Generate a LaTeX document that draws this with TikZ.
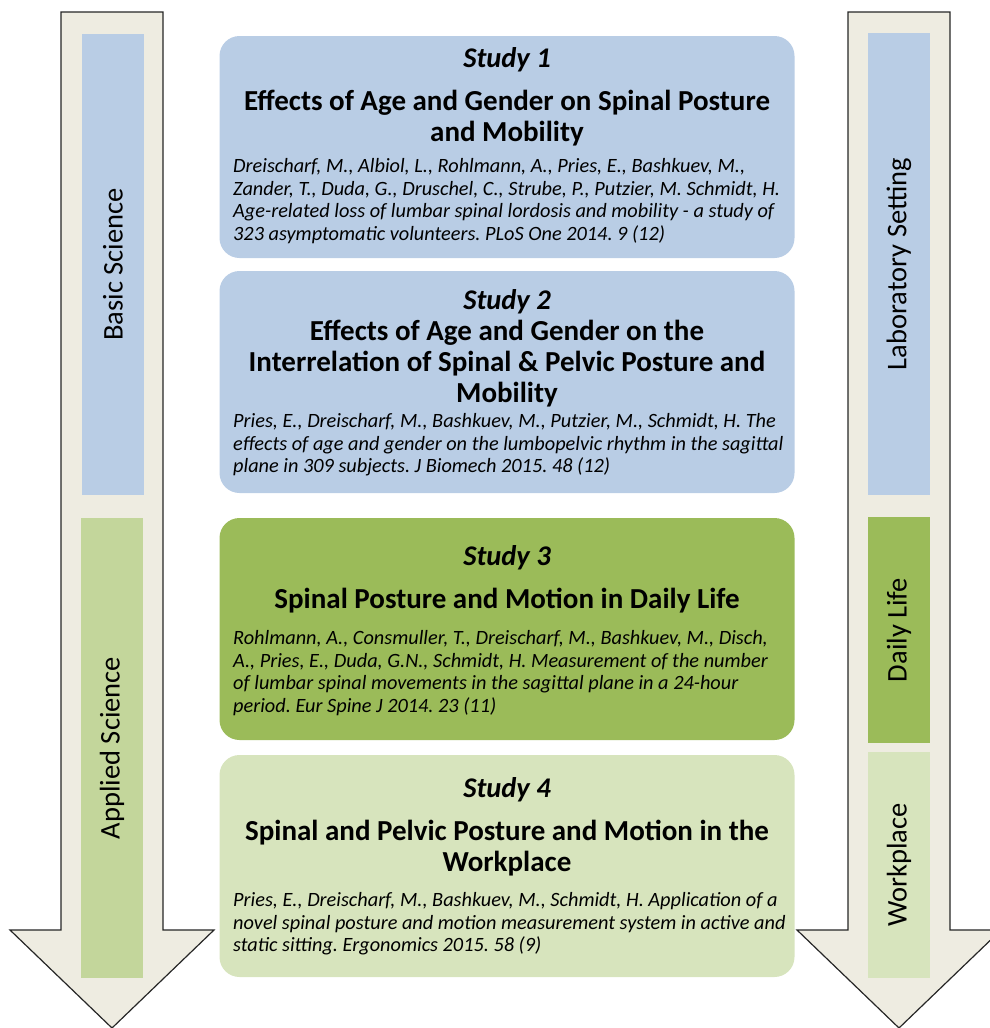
\documentclass[tikz,border=0pt]{standalone}
\usepackage{fontspec}
\setmainfont{Carlito}
\frenchspacing
\definecolor{arrowtan}{HTML}{EEECE1}
\definecolor{studyblue}{HTML}{B9CDE5}
\definecolor{olivedark}{HTML}{9BBB59}
\definecolor{olivemid}{HTML}{C3D69B}
\definecolor{olivelight}{HTML}{D7E4BD}
\tikzset{
	arrowbody/.style={draw=black!85, line width=1.2pt, fill=arrowtan},
	sidebox/.style={inner sep=0pt, rotate=90, minimum height=62, font=\fontsize{28.5}{32}\selectfont},
	studybox/.style={rounded corners=20pt, minimum width=575, minimum height=222, inner sep=0pt},
	studynum/.style={inner sep=0pt, font=\fontsize{28.5}{32}\bfseries\itshape\selectfont},
	studytitle/.style={inner sep=0pt, align=center, font=\fontsize{29}{31}\bfseries\selectfont},
	studycite/.style={inner sep=0pt, align=left, anchor=west, font=\fontsize{20.3}{22.4}\itshape\selectfont}
}

\begin{document}
\begin{tikzpicture}[x=1pt, y=-1pt]
		%%%%% START %%%%%
		\clip (0, 0) rectangle (990, 1028);
		
		% arrows
		\draw[arrowbody] (61, 12) -- (163, 12) -- (163, 930) -- (214, 930) -- (112, 1028) -- (10, 930) -- (61, 930) -- cycle;
		\draw[arrowbody] (848, 12) -- (950, 12) -- (950, 930) -- (1001, 930) -- (899, 1028) -- (797, 930) -- (848, 930) -- cycle;
		
		\node[sidebox, fill=studyblue, minimum width=461] (basic) at (113, 264.5) {Basic Science};
		\node[sidebox, fill=olivemid, minimum width=460] (applied) at (112, 748) {Applied Science};
		
		\node[sidebox, fill=studyblue, minimum width=462] (lab) at (899, 264) {Laboratory Setting};
		\node[sidebox, fill=olivedark, minimum width=226] (daily) at (899, 630) {Daily Life};
		\node[sidebox, fill=olivelight, minimum width=226] (work) at (899, 865) {Workplace};
		
		% study 1
		\node[studybox, fill=studyblue] (s1) at (507, 147) {};
		\node[studynum] (s1n) at (507, 60) {Study 1};
		\node[studytitle] (s1t) at (507, 118) {Effects of Age and Gender on Spinal Posture\\and Mobility};
		\node[studycite] (s1c) at (233, 201) {Dreischarf, M., Albiol, L., Rohlmann, A., Pries, E., Bashkuev, M.,\\Zander, T., Duda, G., Druschel, C., Strube, P., Putzier, M. Schmidt, H.\\Age-related loss of lumbar spinal lordosis and mobility - a study of\\323 asymptomatic volunteers. PLoS One 2014. 9 (12)};
		
		% study 2
		\node[studybox, fill=studyblue] (s2) at (507, 382) {};
		\node[studynum] (s2n) at (507, 302) {Study 2};
		\node[studytitle] (s2t) at (507, 364) {Effects of Age and Gender on the\\Interrelation of Spinal \& Pelvic Posture and\\Mobility};
		\node[studycite] (s2c) at (233, 445) {Pries, E., Dreischarf, M., Bashkuev, M., Putzier, M., Schmidt, H. The\\effects of age and gender on the lumbopelvic rhythm in the sagittal\\plane in 309 subjects. J Biomech 2015. 48 (12)};
		
		% study 3
		\node[studybox, fill=olivedark] (s3) at (507, 629) {};
		\node[studynum] (s3n) at (507, 558) {Study 3};
		\node[studytitle] (s3t) at (507, 601) {Spinal Posture and Motion in Daily Life};
		\node[studycite] (s3c) at (233, 673) {Rohlmann, A., Consmuller, T., Dreischarf, M., Bashkuev, M., Disch,\\A., Pries, E., Duda, G.N., Schmidt, H. Measurement of the number\\of lumbar spinal movements in the sagittal plane in a 24-hour\\period. Eur Spine J 2014. 23 (11)};
		
		% study 4
		\node[studybox, fill=olivelight] (s4) at (507, 866) {};
		\node[studynum] (s4n) at (507, 790) {Study 4};
		\node[studytitle] (s4t) at (507, 848) {Spinal and Pelvic Posture and Motion in the\\Workplace};
		\node[studycite] (s4c) at (233, 924) {Pries, E., Dreischarf, M., Bashkuev, M., Schmidt, H. Application of a\\novel spinal posture and motion measurement system in active and\\static sitting. Ergonomics 2015. 58 (9)};
		
		%%%%% END %%%%%
\end{tikzpicture}
\end{document}
